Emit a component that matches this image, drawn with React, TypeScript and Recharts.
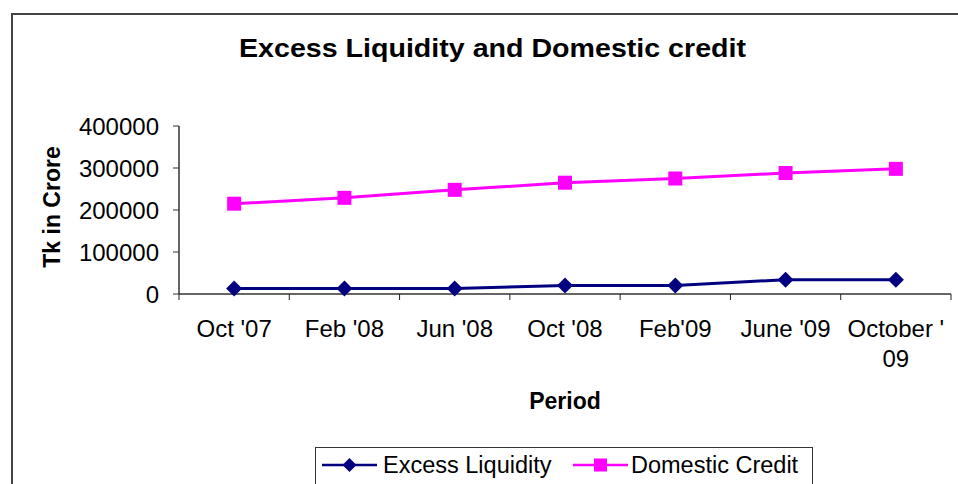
import React from 'react';
import { LineChart, Line, XAxis, YAxis, Legend } from 'recharts';

const periods = ["Oct '07", "Feb '08", "Jun '08", "Oct '08", "Feb'09", "June '09", "October '09"];
const excessLiquidity = [13000, 13000, 13000, 20000, 20000, 34000, 34000];
const domesticCredit = [215000, 229000, 248000, 265000, 275000, 288000, 298000];
const yTicks = [0, 100000, 200000, 300000, 400000];
const seriesOrder = ['excess', 'credit'];

const NAVY = '#000080';
const MAGENTA = '#FF00FF';
const FONT = "'Liberation Sans', Arial, sans-serif";

const W = 958;
const H = 484;
const PLOT_LEFT = 179;
const PLOT_RIGHT = 7;
const HALF_BAND = (W - PLOT_LEFT - PLOT_RIGHT) / (periods.length * 2);

const data = periods.map((p, i) => ({
  period: p,
  excess: excessLiquidity[i],
  credit: domesticCredit[i],
}));

const DiamondDot = (props: any) => {
  const { cx, cy } = props;
  if (cx == null || cy == null) return null;
  const r = 8;
  return (
    <polygon
      points={`${cx},${cy - r} ${cx + r},${cy} ${cx},${cy + r} ${cx - r},${cy}`}
      fill={NAVY}
    />
  );
};

const SquareDot = (props: any) => {
  const { cx, cy } = props;
  if (cx == null || cy == null) return null;
  const s = 14;
  return <rect x={cx - s / 2} y={cy - s / 2} width={s} height={s} fill={MAGENTA} />;
};

// excel style: tick marks sit between categories, long labels wrap
const PeriodTick = (props: any) => {
  const { x, y, payload, index } = props;
  const label: string = payload.value;
  const lines = label.length > 10 ? [label.slice(0, -2), label.slice(-2)] : [label];
  const axisY = y - 26;
  return (
    <g>
      <line x1={x - HALF_BAND} x2={x - HALF_BAND} y1={axisY} y2={axisY + 6} stroke="#222" />
      {index === periods.length - 1 && (
        <line x1={x + HALF_BAND} x2={x + HALF_BAND} y1={axisY} y2={axisY + 6} stroke="#222" />
      )}
      <text x={x} y={y} textAnchor="middle" fontSize={24} fill="#000" fontFamily={FONT}>
        {lines.map((l, i) => (
          <tspan key={i} x={x} dy={i === 0 ? '0.7em' : 30}>
            {l}
          </tspan>
        ))}
      </text>
    </g>
  );
};

const LegendIcon = ({ color, shape }: { color: string; shape: string }) => (
  <svg width={55} height={20} style={{ display: 'block', flex: 'none' }}>
    <line x1={0} x2={55} y1={10} y2={10} stroke={color} strokeWidth={2.5} />
    {shape === 'diamond' ? (
      <polygon points="27.5,3 34.5,10 27.5,17 20.5,10" fill={color} />
    ) : (
      <rect x={21} y={3.5} width={13} height={13} fill={color} />
    )}
  </svg>
);

const renderLegend = (props: any) => {
  const payload = [...(props.payload || [])].sort(
    (a: any, b: any) => seriesOrder.indexOf(a.dataKey) - seriesOrder.indexOf(b.dataKey)
  );
  return (
    <div
      style={{
        border: '1px solid #333',
        height: 40,
        boxSizing: 'border-box',
        display: 'flex',
        alignItems: 'flex-start',
        paddingTop: 5,
        paddingLeft: 6,
        fontFamily: FONT,
        fontSize: 23.5,
        color: '#000',
        background: '#fff',
      }}
    >
      {payload.map((entry: any, i: number) => (
        <div
          key={entry.value}
          style={{ display: 'flex', alignItems: 'center', width: i === 0 ? 251 : 'auto', lineHeight: '24px' }}
        >
          <LegendIcon color={entry.color} shape={entry.dataKey === 'excess' ? 'diamond' : 'square'} />
          <span style={{ marginLeft: i === 0 ? 6 : 3, whiteSpace: 'nowrap' }}>{entry.value}</span>
        </div>
      ))}
    </div>
  );
};

export default function App() {
  return (
    <div style={{ position: 'absolute', left: 0, top: 0, width: W, height: H, overflow: 'hidden', background: '#fff' }}>
      <div
        style={{
          position: 'absolute',
          left: 11,
          top: 13,
          width: 1000,
          height: 500,
          border: '2px solid #444',
        }}
      />
      <div style={{ position: 'absolute', left: 0, top: 0 }}>
        <LineChart
          width={W}
          height={H}
          data={data}
          margin={{ top: 126, right: PLOT_RIGHT, bottom: 0, left: 0 }}
          style={{ fontFamily: FONT }}
        >
          <text
            x={492.5}
            y={57}
            textAnchor="middle"
            fontSize={26}
            fontWeight="bold"
            fill="#000"
            fontFamily={FONT}
            textLength={507}
            lengthAdjust="spacingAndGlyphs"
          >
            Excess Liquidity and Domestic credit
          </text>
          <XAxis
            dataKey="period"
            height={190}
            padding={{ left: HALF_BAND, right: HALF_BAND }}
            axisLine={{ stroke: '#333', strokeWidth: 1.5 }}
            tickLine={false}
            tickSize={0}
            tickMargin={26}
            interval={0}
            tick={<PeriodTick />}
            label={{
              value: 'Period',
              position: 'insideBottom',
              offset: 75,
              fontSize: 23,
              fontWeight: 'bold',
              fill: '#000',
              fontFamily: FONT,
            }}
          />
          <YAxis
            width={PLOT_LEFT}
            domain={[0, 400000]}
            ticks={yTicks}
            interval={0}
            axisLine={{ stroke: '#333', strokeWidth: 1.5 }}
            tickLine={{ stroke: '#333' }}
            tickSize={6}
            tickMargin={14}
            tick={{ fill: '#000', fontSize: 24, fontFamily: FONT }}
            label={{
              content: () => (
                <text
                  x={52}
                  y={207}
                  transform="rotate(-90, 52, 207)"
                  textAnchor="middle"
                  dominantBaseline="central"
                  fontSize={23}
                  fontWeight="bold"
                  fill="#000"
                  fontFamily={FONT}
                >
                  Tk in Crore
                </text>
              ),
            }}
          />
          <Legend
            layout="horizontal"
            verticalAlign="middle"
            align="center"
            content={renderLegend}
            wrapperStyle={{ left: 315, top: 447, width: 498, right: 'auto', bottom: 'auto' }}
          />
          <Line
            type="linear"
            dataKey="excess"
            name="Excess Liquidity"
            stroke={NAVY}
            strokeWidth={3}
            dot={<DiamondDot />}
            activeDot={false}
            isAnimationActive={false}
          />
          <Line
            type="linear"
            dataKey="credit"
            name="Domestic Credit"
            stroke={MAGENTA}
            strokeWidth={3}
            dot={<SquareDot />}
            activeDot={false}
            isAnimationActive={false}
          />
        </LineChart>
      </div>
    </div>
  );
}
